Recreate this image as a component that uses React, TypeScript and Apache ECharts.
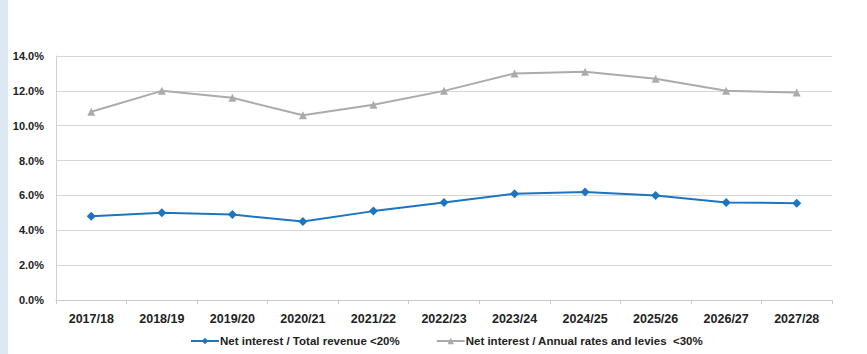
import React, { useEffect, useRef } from "react";
import * as echarts from "echarts";

const categories = ["2017/18", "2018/19", "2019/20", "2020/21", "2021/22", "2022/23", "2023/24", "2024/25", "2025/26", "2026/27", "2027/28"];
const totalRevenue = [4.8, 5.0, 4.9, 4.5, 5.1, 5.6, 6.1, 6.2, 6.0, 5.6, 5.55];
const ratesLevies = [10.8, 12.0, 11.6, 10.6, 11.2, 12.0, 13.0, 13.1, 12.7, 12.0, 11.9];
const seriesNames = ["Net interest / Total revenue <20%", "Net interest / Annual rates and levies  <30%"];

const FONT = "'Liberation Sans', sans-serif";

export default function App() {
  const ref = useRef<HTMLDivElement>(null);
  useEffect(() => {
    if (!ref.current) return;
    const chart = echarts.init(ref.current, undefined, { renderer: "svg" });
    chart.setOption({
      animation: false,
      backgroundColor: "#ffffff",
      grid: { left: 56, right: 35, top: 56, bottom: 54 },
      graphic: [
        { type: "rect", left: 0, top: 0, shape: { width: 8, height: 354 }, style: { fill: "#dce8f2" } },
      ],
      legend: {
        bottom: 2,
        left: 185,
        itemWidth: 28,
        itemHeight: 8,
        itemGap: 36,
        textStyle: { fontFamily: FONT, fontSize: 11.5, color: "#222", fontWeight: "bold", padding: [0, 0, 0, -4] },
        data: seriesNames,
      },
      xAxis: {
        type: "category",
        data: categories,
        boundaryGap: true,
        axisLine: { lineStyle: { color: "#c8c8c8" } },
        axisTick: { show: true, length: 4, lineStyle: { color: "#c8c8c8" } },
        axisLabel: { fontFamily: FONT, fontSize: 12.5, color: "#222", fontWeight: "bold", margin: 12 },
      },
      yAxis: {
        type: "value",
        min: 0,
        max: 14,
        interval: 2,
        axisLine: { show: true, lineStyle: { color: "#d0d0d0" } },
        axisTick: { show: false },
        splitLine: { lineStyle: { color: "#d6d6d6" } },
        axisLabel: {
          fontFamily: FONT,
          fontSize: 11,
          color: "#222",
          fontWeight: "bold",
          margin: 12,
          formatter: (v: number) => v.toFixed(1) + "%",
        },
      },
      series: [
        {
          name: seriesNames[0],
          type: "line",
          data: totalRevenue,
          symbol: "diamond",
          symbolSize: 9,
          lineStyle: { color: "#1d75c0", width: 2 },
          itemStyle: { color: "#1d75c0" },
        },
        {
          name: seriesNames[1],
          type: "line",
          data: ratesLevies,
          symbol: "triangle",
          symbolSize: 8,
          lineStyle: { color: "#ababab", width: 2 },
          itemStyle: { color: "#ababab" },
        },
      ],
    });
    return () => chart.dispose();
  }, []);
  return <div ref={ref} style={{ position: "fixed", left: 0, top: 0, width: 867, height: 354 }} />;
}
